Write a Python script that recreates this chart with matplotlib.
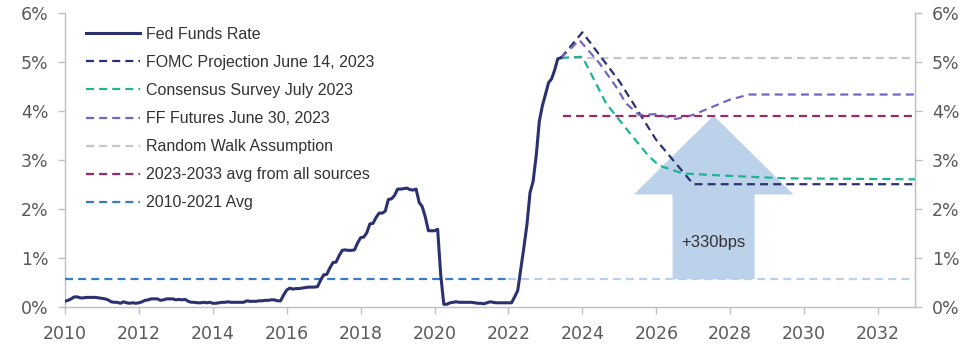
import matplotlib
matplotlib.use("Agg")
import matplotlib.pyplot as plt
import numpy as np

plt.rcParams['font.family'] = ['Liberation Sans', 'DejaVu Sans']

# ---------------- data ----------------
ffr_start_year = 2010
fed_funds = [
    0.11, 0.13, 0.16, 0.20, 0.20, 0.18, 0.18, 0.19, 0.19, 0.19, 0.19, 0.18,  # 2010
    0.17, 0.16, 0.14, 0.10, 0.09, 0.09, 0.07, 0.10, 0.08, 0.07, 0.08, 0.07,  # 2011
    0.08, 0.10, 0.13, 0.14, 0.16, 0.16, 0.16, 0.13, 0.14, 0.16, 0.16, 0.16,  # 2012
    0.14, 0.15, 0.14, 0.15, 0.11, 0.09, 0.09, 0.08, 0.08, 0.09, 0.08, 0.09,  # 2013
    0.07, 0.07, 0.08, 0.09, 0.09, 0.10, 0.09, 0.09, 0.09, 0.09, 0.09, 0.12,  # 2014
    0.11, 0.11, 0.11, 0.12, 0.12, 0.13, 0.13, 0.14, 0.14, 0.12, 0.12, 0.24,  # 2015
    0.34, 0.38, 0.36, 0.37, 0.37, 0.38, 0.39, 0.40, 0.40, 0.40, 0.41, 0.54,  # 2016
    0.65, 0.66, 0.79, 0.90, 0.91, 1.04, 1.15, 1.16, 1.15, 1.15, 1.16, 1.30,  # 2017
    1.41, 1.42, 1.51, 1.69, 1.70, 1.82, 1.91, 1.91, 1.95, 2.19, 2.20, 2.27,  # 2018
    2.40, 2.40, 2.41, 2.42, 2.39, 2.38, 2.40, 2.13, 2.04, 1.83, 1.55, 1.55,  # 2019
    1.55, 1.58, 0.65, 0.05, 0.05, 0.08, 0.09, 0.10, 0.09, 0.09, 0.09, 0.09,  # 2020
    0.09, 0.08, 0.07, 0.07, 0.06, 0.08, 0.10, 0.09, 0.08, 0.08, 0.08, 0.08,  # 2021
    0.08, 0.08, 0.20, 0.33, 0.77, 1.21, 1.68, 2.33, 2.56, 3.08, 3.78, 4.10,  # 2022
    4.33, 4.57, 4.65, 4.83, 5.06, 5.08,                                      # 2023
]

fomc_x = [2023.42, 2024.0, 2025.0, 2026.0, 2027.0, 2033.0]
fomc_y = [5.08, 5.60, 4.60, 3.40, 2.50, 2.50]

consensus_x = [2023.42, 2024.0, 2024.23, 2024.64, 2025.0, 2025.36, 2025.81, 2026.08,
               2026.71, 2027.97, 2029.5, 2033.0]
consensus_y = [5.08, 5.10, 4.76, 4.15, 3.81, 3.47, 3.06, 2.88, 2.72, 2.67, 2.62, 2.60]

futures_x = [2023.42, 2023.92, 2024.46, 2024.91, 2025.18, 2025.54, 2025.99, 2026.53,
             2026.98, 2027.97, 2028.51, 2033.0]
futures_y = [5.08, 5.44, 4.97, 4.49, 4.15, 3.91, 3.93, 3.83, 3.91, 4.22, 4.33, 4.33]

random_walk_x = [2023.42, 2033.0]
random_walk_y = [5.08, 5.08]

avg_all_x = [2023.47, 2033.0]
avg_all_y = [3.90, 3.90]

avg_hist_x = [2010.0, 2022.0]
avg_hist_ext_x = [2022.0, 2033.0]
avg_hist_value = 0.56

arrow_center_x = 2027.55
arrow_label = "+330bps"

y_ticks = [0, 1, 2, 3, 4, 5, 6]
x_ticks = list(range(2010, 2033, 2))

# ---------------- figure ----------------
fig = plt.figure(figsize=(9.8, 3.44), dpi=100)
ax = fig.add_axes([0.0663, 0.1084, 0.8674, 0.8547])

ffr_x = ffr_start_year + np.arange(len(fed_funds)) / 12.0

c_ffr = '#2b3170'
c_fomc = '#2b3170'
c_cons = '#1fb394'
c_fut = '#7466c0'
c_rw = '#c6c6c6'
c_avg = '#9a2a68'
c_hist = '#3a7bc8'
c_hist_ext = '#b9d0ea'
c_arrow = '#bcd1ea'

dash = (0, (3.6, 2.3))
lw = 1.6

# arrow (behind lines)
arrow_len = avg_all_y[0] - avg_hist_value
ax.arrow(arrow_center_x, avg_hist_value, 0, arrow_len, width=2.22, head_width=4.32,
         head_length=1.61, length_includes_head=True, color=c_arrow, lw=0, zorder=1)
ax.text(arrow_center_x, 1.32, arrow_label, ha='center', va='center', fontsize=12,
        color='#333333', zorder=5)

ax.plot(ffr_x, fed_funds, color=c_ffr, lw=2.2, label='Fed Funds Rate', zorder=4,
        solid_joinstyle='round')
ax.plot(fomc_x, fomc_y, color=c_fomc, lw=lw, ls=dash, label='FOMC Projection June 14, 2023', zorder=3)
ax.plot(consensus_x, consensus_y, color=c_cons, lw=lw, ls=dash, label='Consensus Survey July 2023', zorder=3)
ax.plot(futures_x, futures_y, color=c_fut, lw=lw, ls=dash, label='FF Futures June 30, 2023', zorder=3)
ax.plot(random_walk_x, random_walk_y, color=c_rw, lw=lw, ls=dash, label='Random Walk Assumption', zorder=2)
ax.plot(avg_all_x, avg_all_y, color=c_avg, lw=lw, ls=dash, label='2023-2033 avg from all sources', zorder=3)
ax.plot(avg_hist_x, [avg_hist_value] * 2, color=c_hist, lw=lw, ls=dash, label='2010-2021 Avg', zorder=3)
ax.plot(avg_hist_ext_x, [avg_hist_value] * 2, color=c_hist_ext, lw=lw, ls=dash, zorder=2)

ax.set_xlim(2010, 2033)
ax.set_ylim(0, 6)
ax.set_xticks(x_ticks)
ax.set_xticklabels([str(t) for t in x_ticks])
ax.set_yticks(y_ticks)
ax.set_yticklabels([f"{t}%" for t in y_ticks])

spine_c = '#bfbfbf'
label_c = '#595959'
tick_font = 'DejaVu Sans'
for s in ['left', 'bottom', 'right']:
    ax.spines[s].set_color(spine_c)
    ax.spines[s].set_linewidth(1.0)
ax.spines['top'].set_visible(False)
ax.tick_params(axis='both', colors=spine_c, labelcolor=label_c, length=5, width=1.0,
               direction='out', labelsize=12.5)
ax.tick_params(axis='x', pad=8)
ax.tick_params(axis='y', pad=7)
for lab in ax.get_xticklabels() + ax.get_yticklabels():
    lab.set_family(tick_font)

ax2 = ax.twinx()
ax2.set_ylim(0, 6)
ax2.set_yticks(y_ticks)
ax2.set_yticklabels([f"{t}%" for t in y_ticks])
for s in ['left', 'bottom', 'top']:
    ax2.spines[s].set_visible(False)
ax2.spines['right'].set_color(spine_c)
ax2.tick_params(axis='y', colors=spine_c, labelcolor=label_c, length=5, width=1.0,
                direction='out', labelsize=12.5, pad=7)
for lab in ax2.get_yticklabels():
    lab.set_family(tick_font)

leg = ax.legend(loc='upper left', bbox_to_anchor=(0.0247, 0.952), frameon=False,
                fontsize=11.5, handlelength=3.4, handletextpad=0.35,
                labelspacing=0.82, borderpad=0, borderaxespad=0)
for t in leg.get_texts():
    t.set_color('#333333')

fig.savefig('out.png', dpi=100)
